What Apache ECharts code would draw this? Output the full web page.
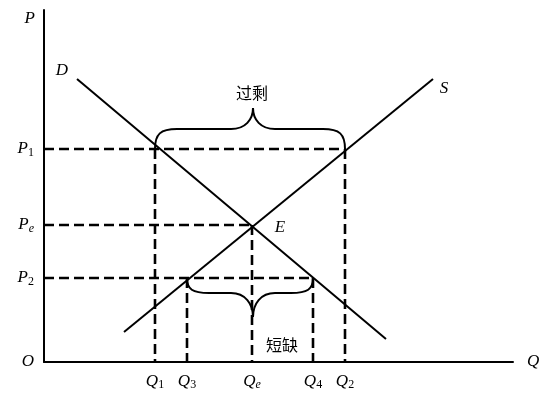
<!DOCTYPE html>
<html><head><meta charset="utf-8">
<script src="https://cdn.jsdelivr.net/npm/echarts@6/dist/echarts.min.js"></script>
<style>html,body{margin:0;padding:0;background:#fff}#c{width:549px;height:406px}</style>
</head><body><div id="c"></div>
<script>
// ---- data (value units on the chart's own axes) ----
const priceNames = ['P1', 'Pe', 'P2'];
const priceValues = [213, 137, 84];
const priceReach = ['Q2', 'Qe', 'Q4'];          // horizontal guide runs to this quantity
const quantityNames = ['Q1', 'Q3', 'Qe', 'Q4', 'Q2'];
const quantityValues = [111, 143, 208, 269, 301];
const quantityFrom = ['P1', 'P2', 'Pe', 'P2', 'P1']; // vertical guide rises to this price
const demandPoints = [[33, 283], [342, 23]];
const supplyPoints = [[80, 30], [389, 283]];
const equilibrium = ['Qe', 'Pe'];
const braceNames = ['过剩', '短缺'];
const braceSpans = [['Q1', 'Q2', 'P1'], ['Q3', 'Q4', 'P2']];

const Q = n => quantityValues[quantityNames.indexOf(n)];
const P = n => priceValues[priceNames.indexOf(n)];

const serif = 'Liberation Serif';
const italic = { fontFamily: serif, fontStyle: 'italic', fontSize: 17, color: '#000' };
const rich = {
  m: Object.assign({}, italic),
  d: { fontFamily: serif, fontSize: 12, color: '#000', padding: [7, 0, 0, 0] },
  e: { fontFamily: serif, fontStyle: 'italic', fontSize: 12, color: '#000', padding: [7, 0, 0, 0] }
};
const fmt = n => {
  const sub = n.slice(1);
  return '{m|' + n[0] + '}' + (sub ? (/\d/.test(sub) ? '{d|' + sub + '}' : '{e|' + sub + '}') : '');
};

const dash = { color: '#000', width: 2.6, type: [10, 5] };
const series = [];
priceNames.forEach((n, i) => {
  series.push({ type: 'line', silent: true, symbol: 'none', lineStyle: dash,
    data: [[0, priceValues[i]], [Q(priceReach[i]), priceValues[i]]] });
});
quantityNames.forEach((n, i) => {
  series.push({ type: 'line', silent: true, symbol: 'none', lineStyle: dash,
    data: [[quantityValues[i], P(quantityFrom[i])], [quantityValues[i], 0]] });
});
series.push({ type: 'line', silent: true, symbol: 'none', lineStyle: { color: '#000', width: 2 }, data: demandPoints });
series.push({ type: 'line', silent: true, symbol: 'none', lineStyle: { color: '#000', width: 2 }, data: supplyPoints });
series.push({
  type: 'scatter', silent: true, symbolSize: 0,
  itemStyle: { color: '#000', opacity: 1 },
  label: Object.assign({ show: true, position: 'inside', opacity: 1, textBorderWidth: 0 }, italic),
  data: [
    { value: demandPoints[0], label: { formatter: 'D', offset: [-15, -8] } },
    { value: supplyPoints[1], label: { formatter: 'S', offset: [11, 10] } },
    { value: [Q(equilibrium[0]), P(equilibrium[1])], label: { formatter: 'E', offset: [28, 3] } }
  ]
});
series.push({
  type: 'custom', silent: true,
  encode: { x: [0, 1], y: 2 },
  data: braceSpans.map(s => [Q(s[0]), Q(s[1]), P(s[2])]),
  renderItem(params, api) {
    const i = params.dataIndex;
    const a = api.coord([api.value(0), api.value(2)]);
    const b = api.coord([api.value(1), api.value(2)]);
    const d = i === 0 ? -1 : 1;
    const q = d < 0 ? 20 : 15, h = d < 0 ? 41 : 39, r = 22;
    const y0 = a[1], x1 = a[0], x2 = b[0], m = (x1 + x2) / 2 + 3;
    const yq = y0 + d * q, yh = y0 + d * h, yc = yq + d * (h - q) * 0.45;
    const path = `M${x1},${y0} C${x1},${y0 + d * q * 0.75} ${x1 + r * 0.25},${yq} ${x1 + r},${yq} L${m - r},${yq} C${m - r * 0.35},${yq} ${m},${yc} ${m},${yh} C${m},${yc} ${m + r * 0.35},${yq} ${m + r},${yq} L${x2 - r},${yq} C${x2 - r * 0.25},${yq} ${x2},${y0 + d * q * 0.75} ${x2},${y0}`;
    return { type: 'group', children: [
      { type: 'path', shape: { pathData: path }, style: { fill: 'none', stroke: '#000', lineWidth: 2 } },
      { type: 'text', x: d < 0 ? m - 1 : m + 29, y: d < 0 ? yh - 15 : yh + 28,
        style: { text: braceNames[i], align: 'center', verticalAlign: 'middle', fontSize: 16,
          fontFamily: 'Noto Sans CJK SC', fill: '#000' } }
    ] };
  }
});

const chart = echarts.init(document.getElementById('c'), null, { renderer: 'canvas' });
chart.setOption({
  animation: false,
  backgroundColor: '#fff',
  grid: { left: 44, top: 10, right: 36, bottom: 44, outerBoundsMode: 'none' },
  xAxis: {
    type: 'value', min: 0, max: 469,
    name: 'Q', nameLocation: 'end', nameGap: 14,
    nameTextStyle: Object.assign({}, italic, { verticalAlign: 'middle', padding: [12, 0, 0, 0] }),
    axisLine: { onZero: false, lineStyle: { color: '#000', width: 2 } },
    axisTick: { show: false }, splitLine: { show: false },
    axisLabel: { customValues: quantityValues, margin: 10, rich,
      formatter: v => fmt(quantityNames[quantityValues.indexOf(v)]) }
  },
  yAxis: {
    type: 'value', min: 0, max: 352,
    name: 'P', nameLocation: 'end', nameGap: -9,
    nameTextStyle: Object.assign({}, italic, { align: 'right', verticalAlign: 'middle', padding: [0, 9, 0, 0] }),
    axisLine: { show: true, onZero: false, lineStyle: { color: '#000', width: 2 } },
    axisTick: { show: false }, splitLine: { show: false },
    axisLabel: { customValues: [0].concat(priceValues), margin: 10, rich,
      formatter: v => v === 0 ? '{m|O}' : fmt(priceNames[priceValues.indexOf(v)]) }
  },
  series
});
</script></body></html>
